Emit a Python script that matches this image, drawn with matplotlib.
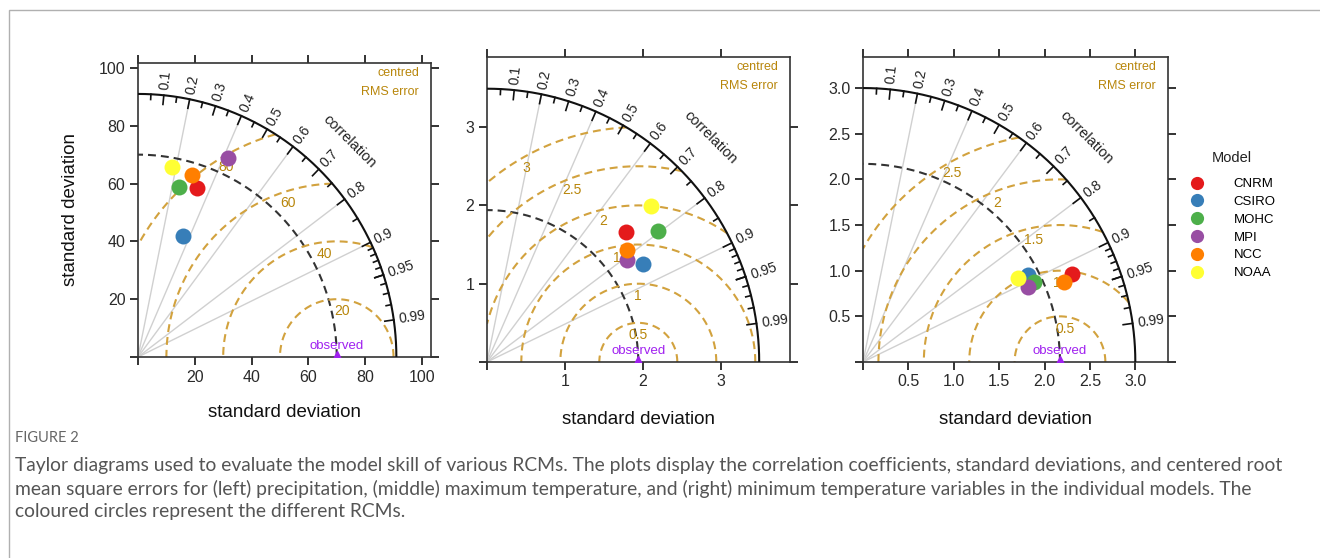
import numpy as np
import matplotlib
matplotlib.use('Agg')
import matplotlib.pyplot as plt
from matplotlib.lines import Line2D
from matplotlib.patches import Rectangle

plt.rcParams['font.family'] = ['Liberation Sans', 'DejaVu Sans']

# modelos y colores
models = ['CNRM', 'CSIRO', 'MOHC', 'MPI', 'NCC', 'NOAA']
colors = ['#E41A1C', '#377EB8', '#4DAF4A', '#984EA3', '#FF7F00', '#FFFF33']

# precipitacion (izquierda)
pr_sd = [62.0, 44.9, 60.4, 75.8, 65.7, 66.7]
pr_cor = [0.334, 0.356, 0.237, 0.420, 0.291, 0.178]
pr_obs = 70.0
pr_rmax = 91.0
pr_rms = [20, 40, 60, 80]
pr_rms_ang = [85, 96, 106.6, 119]

# temperatura maxima (centro)
tx_sd = [2.434, 2.365, 2.761, 2.212, 2.294, 2.899]
tx_cor = [0.730, 0.847, 0.794, 0.810, 0.784, 0.727]
tx_obs = 1.94
tx_rmax = 3.49
tx_rms = [0.5, 1, 1.5, 2, 2.5, 3]
tx_rms_ang = [90, 90, 97.5, 103, 110, 118.5]

# temperatura minima (derecha)
tn_sd = [2.493, 2.048, 2.078, 1.992, 2.380, 1.943]
tn_cor = [0.922, 0.885, 0.908, 0.910, 0.930, 0.881]
tn_obs = 2.17
tn_rmax = 3.0
tn_rms = [0.5, 1, 1.5, 2, 2.5]
tn_rms_ang = [84, 92.3, 101.3, 110.2, 118.5]

cor_labels = [0.1, 0.2, 0.3, 0.4, 0.5, 0.6, 0.7, 0.8, 0.9, 0.95, 0.99]
cor_lines = [0.2, 0.4, 0.6, 0.8, 0.9]

rms_col = '#D2A23E'
rms_txt = '#B8860B'
obs_col = '#A020F0'

W, H = 1320, 558
fig = plt.figure(figsize=(W / 100, H / 100), dpi=100)


def box(l, r, t, b):
    return [l / W, 1 - b / H, (r - l) / W, (b - t) / H]


def taylor(ax, sd, cor, obs, rmax, rms, rms_ang, xmax, ymax, ticks, ticklab):
    sd = np.array(sd)
    cor = np.array(cor)
    # lineas radiales
    for c in cor_lines:
        t = np.arccos(c)
        ax.plot([0, rmax * c], [0, rmax * np.sin(t)], color='#d0d0d0', lw=1, zorder=1)
    # arco exterior
    th = np.linspace(0, np.pi / 2, 400)
    ax.plot(rmax * np.cos(th), rmax * np.sin(th), color='#111111', lw=1.5, zorder=3)
    # arco observado
    ax.plot(obs * np.cos(th), obs * np.sin(th), color='#333333', lw=1.5,
            dashes=(3.8, 2.4), zorder=2)
    # ticks de correlacion
    minor = list(np.arange(0.05, 0.951, 0.05)) + list(np.arange(0.91, 0.995, 0.01))
    for c in minor:
        t = np.arccos(c)
        major = any(abs(c - m) < 1e-6 for m in cor_labels)
        ln = 0.035 if major else 0.02
        ax.plot([rmax * np.cos(t), rmax * (1 - ln) * np.cos(t)],
                [rmax * np.sin(t), rmax * (1 - ln) * np.sin(t)],
                color='#111111', lw=1.2, zorder=3)
    for c in cor_labels:
        t = np.arccos(c)
        ax.text(rmax * 1.02 * np.cos(t), rmax * 1.02 * np.sin(t), f'{c:g}',
                rotation=np.degrees(t), rotation_mode='anchor', ha='left', va='center',
                fontsize=10, color='#222222', zorder=4)
    ax.text(rmax * 1.16 * np.cos(np.pi / 4), rmax * 1.16 * np.sin(np.pi / 4), 'correlation',
            rotation=-45, ha='center', va='center', fontsize=10.5, color='#222222')
    # contornos RMS centrado
    phi = np.linspace(0, np.pi, 3000)
    for r, a in zip(rms, rms_ang):
        x = obs + r * np.cos(phi)
        y = r * np.sin(phi)
        m = (x >= 0) & (x ** 2 + y ** 2 <= rmax ** 2)
        ax.plot(np.where(m, x, np.nan), np.where(m, y, np.nan), color=rms_col, lw=1.5,
                dashes=(3.8, 2.4), zorder=2)
        ar = np.radians(a)
        ax.annotate(f'{r:g}', (obs + r * np.cos(ar), r * np.sin(ar)), xytext=(0, -5),
                    textcoords='offset pixels', ha='center', va='top',
                    fontsize=10, color=rms_txt, zorder=4)
    # observado
    ax.plot([obs], [0], marker='^', ms=9, color=obs_col, zorder=5)
    ax.annotate('observed', (obs, 0), xytext=(0, 11), textcoords='offset pixels',
                ha='center', va='center', fontsize=9.5, color=obs_col)
    ax.annotate('centred', (1, 1), xycoords='axes fraction', xytext=(-12, -10),
                textcoords='offset pixels', ha='right', va='center', fontsize=9, color=rms_txt)
    ax.annotate('RMS error', (1, 1), xycoords='axes fraction', xytext=(-12, -29),
                textcoords='offset pixels', ha='right', va='center', fontsize=9, color=rms_txt)
    # modelos
    for i in range(len(sd)):
        t = np.arccos(cor[i])
        ax.plot(sd[i] * np.cos(t), sd[i] * np.sin(t), 'o', ms=11.5, color=colors[i],
                mew=0, zorder=6)
    ax.set_xlim(0, xmax)
    ax.set_ylim(0, ymax)
    ax.set_xticks(ticks)
    ax.set_xticklabels(ticklab)
    ax.set_yticks(ticks)
    ax.set_yticklabels(ticklab)
    ax.tick_params(direction='out', length=6, width=1.2, top=True, right=True,
                   labelsize=11.5, colors='#111111', labelcolor='#2a2a2a', pad=3)
    for s in ax.spines.values():
        s.set_color('#333333')
        s.set_linewidth(1.2)
    ax.set_xlabel('standard deviation', fontsize=13.5, color='#111111')
    ax.xaxis.set_label_coords(0.5, -0.16)


ax1 = fig.add_axes(box(138, 431, 63, 357))
taylor(ax1, pr_sd, pr_cor, pr_obs, pr_rmax, pr_rms, pr_rms_ang, 103.2, 101.7,
       [0, 20, 40, 60, 80, 100], ['', '20', '40', '60', '80', '100'])
ax1.set_ylabel('standard deviation', fontsize=13.5, color='#111111')
ax1.yaxis.set_label_coords(-0.20, 0.5)

ax2 = fig.add_axes(box(487, 790, 57, 362))
taylor(ax2, tx_sd, tx_cor, tx_obs, tx_rmax, tx_rms, tx_rms_ang, 3.885, 3.895,
       [0, 1, 2, 3], ['', '1', '2', '3'])

ax3 = fig.add_axes(box(863, 1168, 57, 362))
taylor(ax3, tn_sd, tn_cor, tn_obs, tn_rmax, tn_rms, tn_rms_ang, 3.36, 3.34,
       [0, 0.5, 1.0, 1.5, 2.0, 2.5, 3.0], ['', '0.5', '1.0', '1.5', '2.0', '2.5', '3.0'])

# leyenda
handles = [Line2D([], [], ls='none', marker='o', ms=9.5, color=c, mew=0) for c in colors]
fig.legend(handles, models, loc='upper left', bbox_to_anchor=(1190 / W, 1 - 178 / H),
           frameon=False, fontsize=9.5, handlelength=1.0, handletextpad=2.3,
           labelspacing=0.42, borderpad=0, borderaxespad=0)
fig.text(1232 / W, 1 - 158 / H, 'Model', ha='center', va='center', fontsize=10.5,
         color='#222222')

# marco y leyenda de la figura
fig.patches.append(Rectangle((9 / W, -0.1), 1.2, 1 - 10 / H + 0.1, transform=fig.transFigure,
                             fill=False, ec='#b0b0b0', lw=1))
fig.text(15 / W, 1 - 438 / H, 'FIGURE 2', ha='left', va='center', fontsize=10.5,
         color='#666666', family=['Lato', 'DejaVu Sans'])
caption = ['Taylor diagrams used to evaluate the model skill of various RCMs. The plots display the correlation coefficients, standard deviations, and centered root',
           'mean square errors for (left) precipitation, (middle) maximum temperature, and (right) minimum temperature variables in the individual models. The',
           'coloured circles represent the different RCMs.']
for k, line in enumerate(caption):
    fig.text(15 / W, 1 - (466 + 22.5 * k) / H, line, ha='left', va='center', fontsize=13.85,
             color='#555555', family=['Lato', 'DejaVu Sans'])

fig.savefig('out.png', dpi=100)
